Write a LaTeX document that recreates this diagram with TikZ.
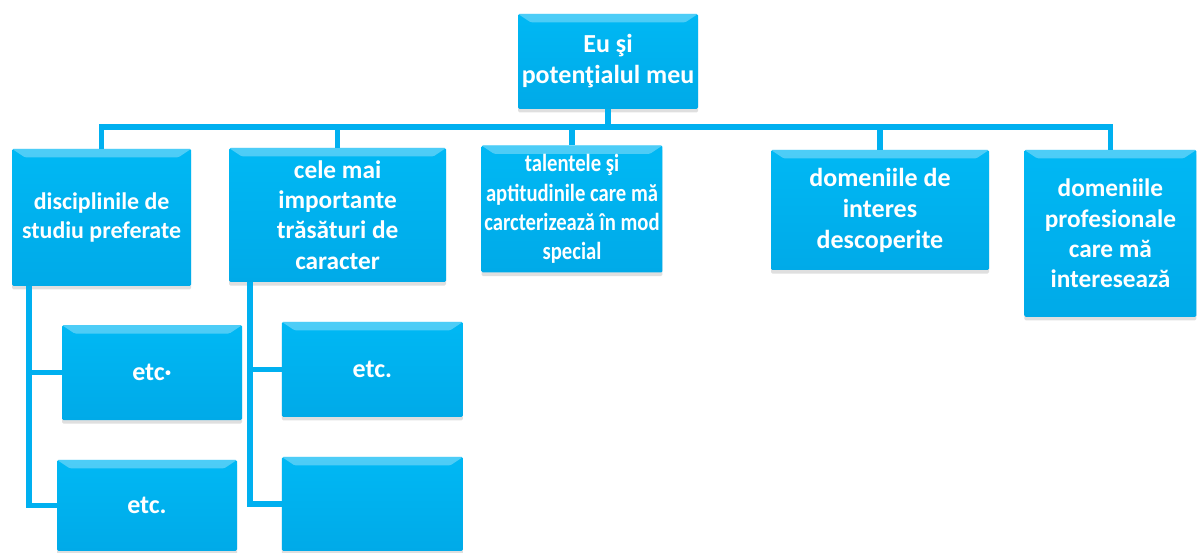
\documentclass[tikz,border=0pt]{standalone}
\usepackage{fontspec}
\setmainfont{Carlito}
\newfontfamily\narrowfont[FakeStretch=0.84]{Carlito}
\usetikzlibrary{shadows}

\definecolor{boxtop}{RGB}{0,184,244}
\definecolor{boxbot}{RGB}{0,170,232}
\definecolor{linkblue}{RGB}{0,176,240}

\begin{document}
\begin{tikzpicture}[
    box/.style={rounded corners=1pt, top color=boxtop, bottom color=boxbot,
                text=white, align=center, inner sep=2pt,
                font=\bfseries\fontsize{18}{21.5}\selectfont,
                drop shadow={shadow xshift=0pt, shadow yshift=-2.5pt, opacity=0.25},
                path picture={\fill[white, opacity=0.3]
                    (path picture bounding box.north west) -- (path picture bounding box.north east)
                    -- ([xshift=-9pt, yshift=-6pt]path picture bounding box.north east)
                    -- ([xshift=9pt, yshift=-6pt]path picture bounding box.north west) -- cycle;}},
    etcbox/.style={box, font=\bfseries\fontsize{18.5}{22}\selectfont},
    link/.style={draw=linkblue, line width=3.6pt},
]
\useasboundingbox (0,0) rectangle (29.95,13.825);

% top
\node[box, minimum width=4.5cm, minimum height=2.375cm,
      font=\bfseries\fontsize{18.5}{22}\selectfont] (self) at (15.2,12.29) {Eu şi\\potenţialul meu};
\coordinate (bar) at (0,10.65);

% first row
\node[box, minimum width=4.475cm, minimum height=3.425cm,
      font=\bfseries\fontsize{17}{21}\selectfont] (disc) at (2.54,8.39) {disciplinile de\\studiu preferate};
\node[box, minimum width=5.425cm, minimum height=3.35cm] (trait) at (8.44,8.45) {cele mai\\importante\\trăsături  de\\caracter};
\node[box, minimum width=4.5cm, minimum height=3.175cm,
      font=\narrowfont\bfseries\fontsize{17.5}{20.8}\selectfont] (talent) at (14.3,8.6) {talentele şi\\aptitudinile care mă\\carcterizează în mod\\special};
\node[box, minimum width=5.45cm, minimum height=3cm,
      font=\bfseries\fontsize{18.5}{22}\selectfont] (inter) at (22.0,8.575) {domeniile de\\interes\\descoperite};
\node[box, minimum width=4.3cm, minimum height=4.175cm] (prof) at (27.76,7.99) {domeniile\\profesionale\\care mă\\interesează};

% second row
\node[etcbox, minimum width=4.5cm, minimum height=2.375cm] (etcA) at (3.8,4.51) {etc·};
\node[etcbox, minimum width=4.5cm, minimum height=2.275cm] (etcB) at (3.675,1.19) {etc.};
\node[etcbox, minimum width=4.525cm, minimum height=2.375cm] (etcC) at (9.31,4.59) {etc.};
\node[box, minimum width=4.525cm, minimum height=2.35cm] (blank) at (9.31,1.225) {};
\coordinate (spineA) at (0.725,0);
\coordinate (spineB) at (6.25,0);

% links
\draw[link] (self.south) -- (self.south |- bar);
\draw[link] (disc.north) |- (bar -| prof.north) -- (prof.north);
\foreach \n in {trait,talent,inter}
    \draw[link] (\n.north) -- (\n.north |- bar);
\draw[link] (spineA |- disc.south) |- (etcB.west);
\draw[link] (spineA |- etcA.west) -- (etcA.west);
\draw[link] (spineB |- trait.south) |- (blank.west);
\draw[link] (spineB |- etcC.west) -- (etcC.west);
\end{tikzpicture}
\end{document}
